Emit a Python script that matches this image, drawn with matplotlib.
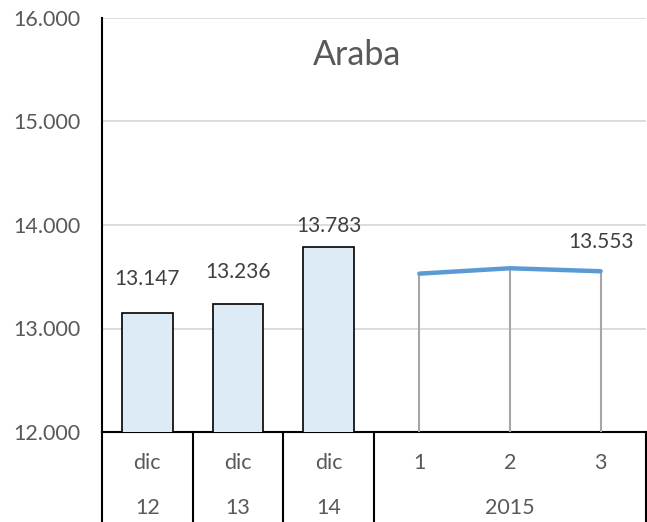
import numpy as np
import matplotlib.pyplot as plt

# data (values in units, shown with Spanish thousands separator)
bar_labels_top = ["dic", "dic", "dic"]
bar_labels_bottom = ["12", "13", "14"]
bar_values = [13147, 13236, 13783]

month_labels = ["1", "2", "3"]
year_label = "2015"
line_values = [13530, 13582, 13553]

yticks = [12000, 13000, 14000, 15000, 16000]

def fmt(v):
    return "{:,}".format(int(v)).replace(",", ".")

plt.rcParams['font.family'] = ['Lato', 'DejaVu Sans']
text_color = "#595959"

fig = plt.figure(figsize=(6.47, 5.22), dpi=100)
ax = fig.add_axes([102/647, 90/522, 544/647, 414/522])

xb = np.arange(len(bar_values))
xl = np.arange(len(line_values)) + len(bar_values)

ax.bar(xb, bar_values, width=0.56, color="#DDEBF7", edgecolor="black", linewidth=1.2, zorder=3)

# drop lines
ax.vlines(xl, 12000, line_values, color="#A6A6A6", linewidth=1.5, zorder=3)
ax.plot(xl, line_values, color="#5B9BD5", linewidth=3.2, solid_capstyle="round", zorder=4)

# value labels
offsets = [34, 32, 21]
for x, v, off in zip(xb, bar_values, offsets):
    ax.annotate(fmt(v), (x, v), xytext=(0, off * 0.72), textcoords="offset points",
                ha="center", va="center", fontsize=15, color="#404040")
ax.annotate(fmt(line_values[-1]), (xl[-1], line_values[-1]), xytext=(0, 29 * 0.72),
            textcoords="offset points", ha="center", va="center", fontsize=15, color="#404040")

ax.set_xlim(-0.5, 5.5)
ax.set_ylim(12000, 16000)
ax.set_yticks(yticks)
ax.set_yticklabels([fmt(t) for t in yticks], fontsize=15.5, color=text_color)
ax.tick_params(axis="y", length=0, pad=15.5)
ax.set_xticks([])
ax.grid(axis="y", color="#D9D9D9", linewidth=1.3, zorder=0)
ax.set_axisbelow(True)
for s in ["top", "right"]:
    ax.spines[s].set_visible(False)
ax.spines["left"].set_linewidth(1.5)
ax.spines["bottom"].set_linewidth(1.5)

# category axis below
trans = ax.get_xaxis_transform()
for x, t, b in zip(xb, bar_labels_top, bar_labels_bottom):
    ax.text(x, -0.075, t, transform=trans, ha="center", va="center", fontsize=15.5, color=text_color)
    ax.text(x, -0.184, b, transform=trans, ha="center", va="center", fontsize=15.5, color=text_color)
for x, t in zip(xl, month_labels):
    ax.text(x, -0.075, t, transform=trans, ha="center", va="center", fontsize=15.5, color=text_color)
ax.text(xl.mean(), -0.184, year_label, transform=trans, ha="center", va="center", fontsize=15.5, color=text_color)

for x in [-0.5, 0.5, 1.5, 2.5, 5.5]:
    ax.plot([x, x], [0, -0.22], transform=trans, color="black", linewidth=1.5, clip_on=False)

ax.text(0.469, 0.91, "Araba", transform=ax.transAxes, ha="center", va="center",
        fontsize=24.5, color=text_color)

fig.savefig("out.png", dpi=100)
